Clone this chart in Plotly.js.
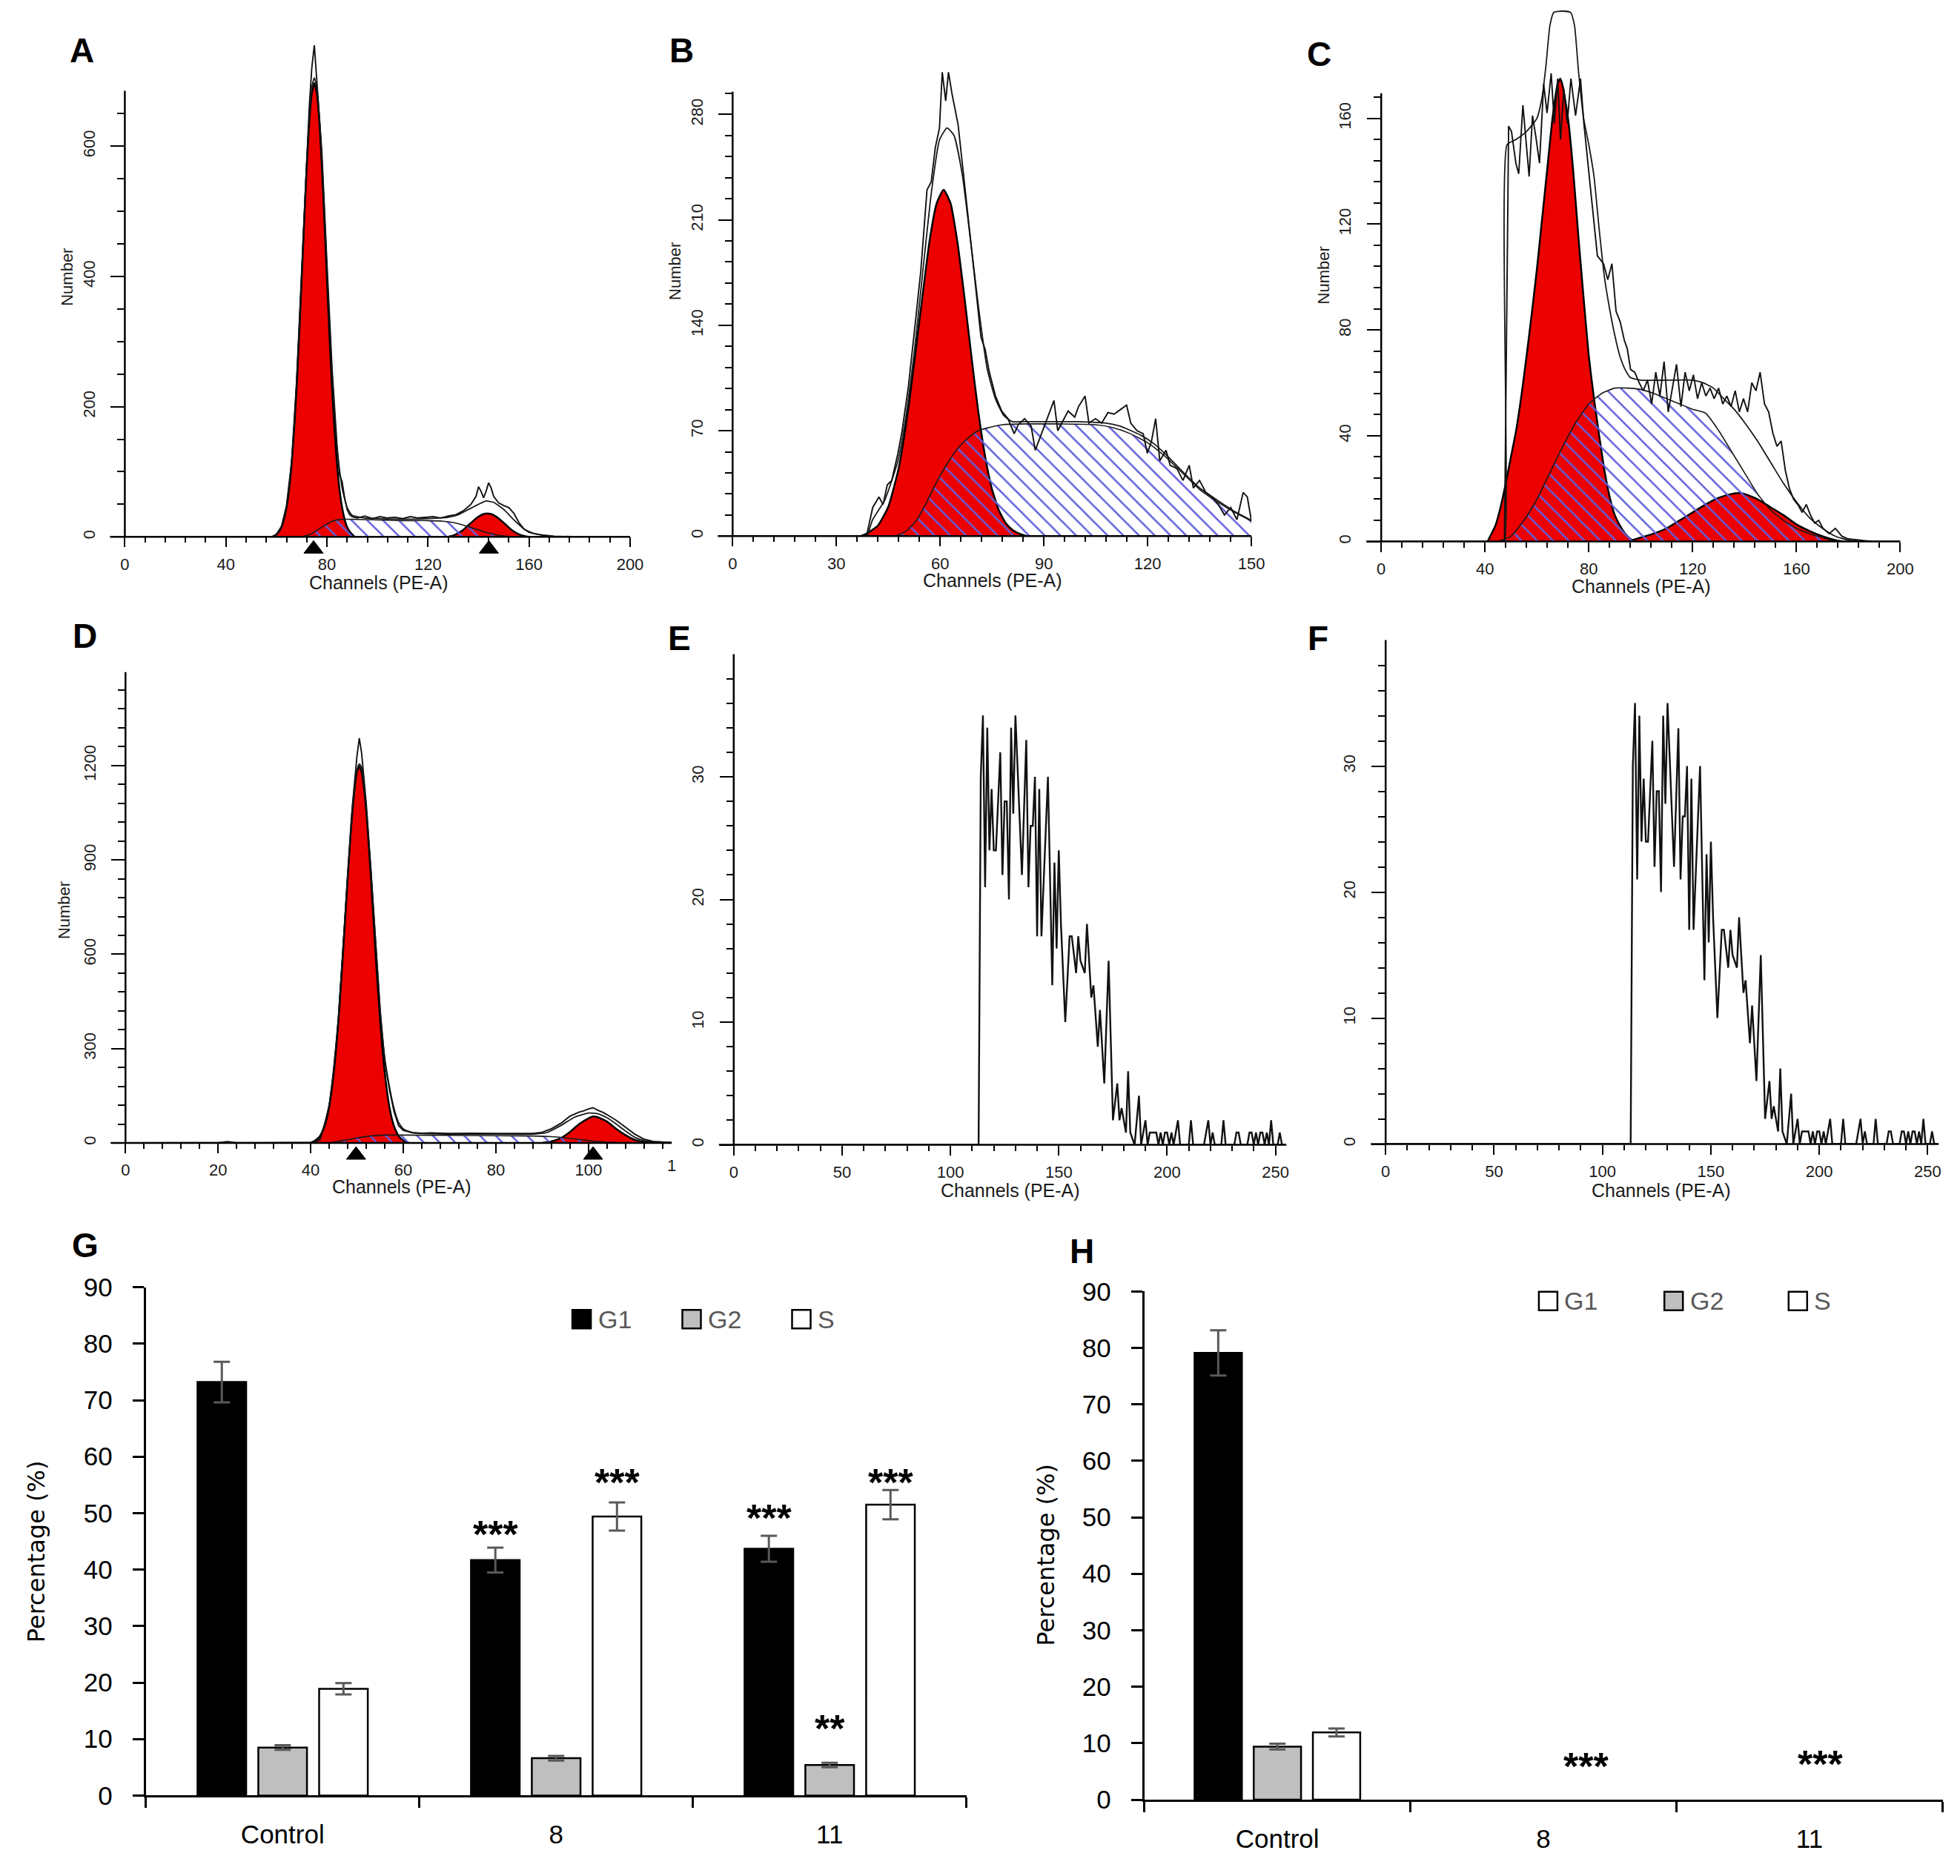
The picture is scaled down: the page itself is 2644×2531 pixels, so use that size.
<!DOCTYPE html>
<html><head><meta charset="utf-8">
<script src="https://cdn.plot.ly/plotly-3.0.1.min.js"></script>
<style>html,body{margin:0;padding:0;background:#fff}#chart{width:2644px;height:2531px}</style>
</head><body><div id="chart"></div>
<script>
// ================= DATA =================
// Panel A  [channel, count]
const aRaw = [[0,0],[20,0],[40,0],[58,0],[60,4],[62,16],[64,48],[66,115],[68,240],[70,410],[72,590],[73,660],[74,720],[75,755],[76,700],[77,650],[78,590],[80,420],[82,260],[84,140],[85,95],[86,85],[87,60],[88,42],[89,34],[90,31],[92,29],[95,32],[98,28],[101,31],[104,29],[107,30],[110,28],[113,31],[116,29],[119,30],[122,31],[125,29],[128,32],[131,34],[134,40],[137,50],[139,62],[140,77],[141,70],[142,60],[143,70],[144,83],[145,75],[146,62],[148,52],[150,48],[152,45],[154,36],[156,22],[158,12],[160,7],[162,5],[165,3],[170,1],[180,0],[200,0]];
const aFit = [[58,0],[60,3],[62,15],[64,46],[66,112],[68,235],[70,400],[72,575],[74,690],[75,705],[76,690],[78,580],[80,410],[82,250],[84,135],[86,75],[88,45],[90,33],[95,29],[100,28],[110,27],[120,28],[128,30],[132,34],[136,42],[140,50],[143,55],[146,53],[150,42],[154,26],[158,12],[162,5],[166,2],[170,0]];
const aG1 = [[59,0],[60,4],[61,8],[62,15],[63,27],[64,45],[65,72],[66,111],[67,164],[68,230],[69,309],[70,396],[71,485],[72,569],[73,637],[74,681],[75,697],[76,681],[77,637],[78,569],[79,485],[80,396],[81,309],[82,230],[83,164],[84,111],[85,72],[86,45],[87,27],[88,15],[89,8],[90,4],[91,0]];
const aS = [[70,0],[74,5],[78,15],[82,24],[86,27],[90,27],[100,26],[110,25],[120,25],[126,24],[130,22],[134,18],[138,13],[142,8],[146,4],[150,1.5],[155,0]];
const aG2 = [[128,0],[130,2],[132,6],[134,11],[136,18],[138,25],[140,31],[142,35],[143.5,36],[145,35],[147,31],[149,25],[151,18],[153,11],[155,6],[157,2.5],[160,0]];
const aPeaks = [74.7, 144.1];

// Panel B
const bRaw = [[0,0],[36,0],[38.7,0],[40.5,19],[42.3,26],[43.5,21],[44.7,34],[46,37],[47.8,55],[49,70],[50.8,99],[52.6,137],[54.4,176],[56.2,230],[57.4,235],[58.6,258],[59.8,271],[60.6,308],[61.6,289],[62.4,308],[63.4,294],[65.2,273],[66.4,248],[68.2,209],[70,171],[71.8,132],[73,124],[74.2,109],[76,93],[77.8,83],[79.6,78],[81.4,68],[82.6,74],[84.4,78],[86.3,73],[87.5,57],[89.3,68],[91,78],[92.9,90],[94,70],[95.9,78],[97,83],[98.9,79],[100,86],[101.9,93],[103,75],[104.9,78],[106.7,75],[108.5,82],[110.3,81],[112.1,84],[113.9,87],[115.1,75],[116.9,70],[118.7,68],[119.9,55],[121.1,63],[122.3,78],[123.5,50],[125.3,57],[126.5,47],[128.4,45],[130.2,37],[132,47],[133.2,32],[135,37],[136.8,29],[138.6,26],[140.4,21],[142.2,14],[144,19],[145.8,11],[147.6,29],[148.8,26],[150,10]];
const bFit = [[39,0],[40.5,11],[44,24],[47.8,50],[50,78],[52.6,124],[55,176],[57.4,227],[59.8,263],[62,271],[64,266],[66.4,240],[68.8,196],[71.2,150],[73.6,111],[76,91],[78.4,80],[80.8,76],[84,76],[90,76],[100,76],[108,75],[112,73],[118,67],[122,61],[126,52.5],[130,43],[135,32],[140,24],[145,16.5],[150,10.5]];
const bG1 = [[37,0],[39,2],[42,7],[45,19.5],[48,45],[51,88],[54,143],[57,197],[59,221],[61,230],[63,221],[65,195],[67,159],[69,120],[71,83],[73,53],[75,31],[77,17],[79,8.5],[81,4],[83,1.6],[85,0]];
const bS = [[47,0],[50,3],[53,10],[56,22],[59,36],[62,48],[65,58],[68,65],[71,70],[74,72],[78,74],[85,74.5],[95,74.5],[105,74],[110,72],[115,68],[120,62],[125,53],[130,42],[135,31],[140,23],[145,16],[150,10]];

// Panel C
const cRaw = [[0,0],[46.2,0],[47.5,0],[49.1,157],[50.2,155],[51.9,143],[53,139],[54.6,165],[55.9,149],[57,138],[58.3,161],[59.6,153],[61,143],[62.6,173],[63.9,162],[65.5,177],[66.7,158],[68,175],[69.1,152],[70.4,171],[71.7,158],[73.1,175],[74.9,161],[76.8,175],[78.1,158],[80,139],[81.6,123],[83.3,108],[85.7,105],[87.3,99],[88.9,105],[90.5,87],[92.1,83],[93.7,76],[94.8,73],[96.1,65],[97.7,64],[99.4,60],[101,57],[102.6,61],[104.2,52],[105.8,64],[107.4,55],[109,68],[110.6,49],[112.2,58],[113.8,67],[115.5,51],[117.1,64],[118.7,57],[120.3,63],[121.9,54],[123.5,60],[125.1,55],[126.7,58],[128.3,54],[130,58],[131.6,52],[133.2,55],[134.8,51],[136.4,57],[138,49],[139.6,54],[141.2,49],[142.8,60],[144.4,57],[146,64],[147.7,52],[149.3,49],[150.9,41],[152.5,36],[154.1,38],[155.7,27],[157.3,20],[158.9,16],[160.5,14],[162.2,11],[163.8,14],[165.4,10],[167,7],[168.6,8],[170.2,5],[172.6,3],[175,5],[177.5,2],[179.9,1],[183,0.7],[187,0.3],[189.5,0],[200,0]];
const cFit = [[46,0],[47.5,0],[48.5,150],[52,152],[56,155],[60,160],[62,168],[63.5,180],[65,195],[66.5,200],[70,200.5],[73,200],[74.5,195],[76,178],[78,160],[80,150],[82,138],[84,118],[86,100],[88,88],[90,78],[92,70],[94,65],[96,62],[100,61],[110,61],[120,61],[124,60],[128,58],[132,54],[136,50],[140,45],[145,38],[150,30],[155,22],[160,15],[165,9],[170,5],[175,2],[180,0.5],[185,0]];
const cG1 = [[41,0],[42,2],[44,6],[46,13],[48,22],[50,32],[52,42],[54,55],[56,70],[58,86],[60,103],[62,122],[64,141],[66,160],[68,173],[69,175],[70,172],[72,160],[74,140],[76,115],[78,92],[80,70],[82,54],[84,40],[86,27],[88,17],[90,10],[92,6],[94,3],[96,1],[98,0]];
const cS = [[45,0],[50,2],[55,8],[60,16],[65,26],[70,36],[75,45],[80,52],[85,56],[90,58],[95,58],[100,57.5],[105,56],[110,54],[115,52],[120,50],[125,48.5],[130,42],[135,34],[140,26],[145,18],[150,12],[155,8],[160,5],[165,3],[170,1.5],[175,0]];
const cG2 = [[95,0],[100,1.5],[105,3],[110,5],[115,8],[120,11],[125,14],[130,16.5],[135,18],[138,18.3],[140,18],[145,16],[150,13],[155,10],[160,6.5],[165,4],[170,2],[175,0.5],[178,0]];

// Panel D
const dRaw = [[0,0],[10,0],[18,0],[20,1],[22,4],[24,1],[30,1],[35,2],[40,2],[42,10],[43,55],[44,120],[45,230],[46,400],[47,620],[48,860],[49,1070],[50,1230],[50.5,1287],[51,1240],[52,1080],[53,870],[54,640],[55,420],[56,260],[57,170],[58,100],[59,55],[60,40],[62,33],[64,31],[66,32],[70,30],[75,31],[80,30],[85,29],[88,30],[90,34],[92,45],[94,62],[96,85],[98,98],[99,102],[100,108],[101,112],[102,104],[103,98],[104,90],[106,72],[108,50],[110,28],[112,12],[114,5],[116,3],[118,2]];
const dFit = [[41,0],[42,15],[44,120],[46,395],[48,855],[50,1185],[50.5,1205],[51,1195],[53,870],[55,425],[56,270],[57,180],[58,110],[59,65],[60,45],[62,32],[70,28],[80,28],[88,28],[91,33],[94,55],[97,82],[100,95],[102,93],[104,80],[106,60],[108,38],[110,18],[112,8],[115,2],[118,0]];
const dG1 = [[40,0],[41,8],[42,22],[43,53],[44,115],[45,224],[46,389],[47,606],[48,846],[49,1056],[50,1180],[50.5,1197],[51,1180],[52,1056],[53,846],[54,606],[55,389],[56,224],[57,115],[58,53],[59,22],[60,8],[61,0]];
const dS = [[44,0],[47,8],[50,16],[53,22],[56,25],[60,25],[70,24],[80,23],[88,22],[92,20],[95,16],[98,11],[101,6],[104,2.5],[107,0.5],[110,0]];
const dG2 = [[90,0],[92,5],[94,15],[96,35],[98,60],[100,78],[101,84],[102,82],[104,68],[106,45],[108,25],[110,10],[112,3],[114,0]];
const dPeaks = [49.8, 101];

// Panels E and F (identical histograms)
const eRaw = [[0,0],[113,0],[114,30],[115,35],[116,21],[117,34],[118,24],[119,29],[120,24],[121,24],[123,32],[124,22],[125,28],[126,28],[127,20],[128,34],[129,27],[130,35],[133,22],[135,33],[136,21],[137,26],[138,26],[139,30],[140,17],[141,29],[142,17],[145,30],[147,13],[148,23],[149,16],[150,24],[151,18],[153,10],[155,17],[156,17],[158,14],[159,17],[160,15],[162,14],[163,18],[165,12],[166,13],[168,8],[169,11],[171,5],[173,15],[175,2],[177,5],[178,2],[179,3],[181,1],[182,6],[183,1],[185,0],[187,4],[188,0],[190,2],[191,0],[192,1],[193,1],[195,1],[196,0],[197,1],[198,0],[199,1],[200,1],[201,0],[202,1],[203,0],[205,2],[206,0],[210,0],[211,2],[212,0],[217,0],[218,1],[219,2],[220,0],[221,1],[222,0],[225,0],[226,2],[227,0],[231,0],[232,1],[233,1],[234,0],[237,0],[238,1],[239,1],[240,0],[241,1],[242,0],[243,1],[244,1],[245,0],[246,1],[247,0],[248,2],[249,0],[251,0],[252,1],[253,0],[255,0]];
const fRaw = eRaw;

// Panels G and H (bar charts)
const categories = ['Control', '8', '11'];
const seriesNames = ['G1', 'G2', 'S'];
const gG1 = [73.2, 41.7, 43.7], gG1Err = [3.6, 2.2, 2.3];
const gG2 = [8.5, 6.6, 5.4],    gG2Err = [0.4, 0.4, 0.4];
const gS  = [18.9, 49.4, 51.5], gSErr  = [1.0, 2.5, 2.6];
const hG1 = [79.1, null, null], hG1Err = [4.0, 0, 0];
const hG2 = [9.4, null, null],  hG2Err = [0.5, 0, 0];
const hS  = [11.9, null, null], hSErr  = [0.7, 0, 0];
const gStars = [{cat:1, ser:0, y:47.5, text:'***'}, {cat:1, ser:2, y:56.8, text:'***'}, {cat:2, ser:0, y:50.5, text:'***'}, {cat:2, ser:1, y:13.2, text:'**'}, {cat:2, ser:2, y:56.8, text:'***'}];
const hStars = [{x:1.16, y:7.2, text:'***'}, {x:2.04, y:7.6, text:'***'}];

// ================= LAYOUT / DRAWING =================
const W = 2644, H = 2531;
const HF = 'Liberation Sans, Arial, Helvetica, sans-serif';
const RED = 'rgb(236,0,0)';
const HATCH = {shape:'\\', fgcolor:'#5f5fdc', bgcolor:'rgba(0,0,0,0)', size:15, solidity:0.17};
const PX = p => p / W, PY = p => 1 - p / H;

const panels = [
  {n:1, x0:168.4, x1:850,    xr:[0,200], y0:724.3,  ppu:0.8785, axTop:685,   yTop:760,  xdt:40, xmd:8,  ymaj:200, ymin:50},
  {n:2, x0:988.3, x1:1688.2, xr:[0,150], y0:723.3,  ppu:2.032,  axTop:295,   yTop:312,  xdt:30, xmd:6,  ymaj:70,  ymin:14},
  {n:3, x0:1863.2,x1:2563.4, xr:[0,200], y0:730.6,  ppu:3.569,  axTop:169.5, yTop:202,  xdt:40, xmd:8,  ymaj:40,  ymin:8},
  {n:4, x0:169.3, x1:906.2,  xr:[0,118], y0:1542,   ppu:0.4243, axTop:1497,  yTop:1500, xdt:20, xmd:4,  ymaj:300, ymin:60},
  {n:5, x0:989.8, x1:1735.2, xr:[0,255], y0:1544.5, ppu:16.55,  axTop:40,    yTop:40,   xdt:50, xmd:10, ymaj:10,  ymin:2},
  {n:6, x0:1869.2,x1:2615.1, xr:[0,255], y0:1543.5, ppu:17.0,   axTop:40,    yTop:40,   xdt:50, xmd:10, ymaj:10,  ymin:2}
];

const layout = {
  width: W, height: H, autosize: false, margin: {l:0, r:0, t:0, b:0},
  paper_bgcolor: '#fff', plot_bgcolor: 'rgba(0,0,0,0)', showlegend: false,
  font: {family: HF, color: '#000'},
  barmode: 'group', bargap: 0.333, bargroupgap: 0.2,
  shapes: [], annotations: []
};
const axName = (c, n) => c + 'axis' + (n === 1 ? '' : n);
const axId = (c, n) => c + (n === 1 ? '' : n);

panels.forEach(p => {
  const majors = [], minors = [];
  for (let v = 0; v < p.axTop - 0.5; v += p.ymaj) majors.push(v);
  for (let v = p.ymin; v < p.axTop; v += p.ymin) if (v % p.ymaj !== 0) minors.push(v);
  layout[axName('x', p.n)] = {
    domain: [PX(p.x0), PX(p.x1)], range: p.xr, anchor: axId('y', p.n),
    showline: false, zeroline: false, showgrid: false,
    ticks: 'outside', ticklen: 13, tickwidth: 2, tickcolor: '#000',
    tick0: 0, dtick: p.xdt, ticklabelstandoff: 4,
    minor: {tick0: 0, dtick: p.xmd, ticks: 'outside', ticklen: 7, tickwidth: 2, tickcolor: '#000'},
    tickfont: {family: HF, size: 22, color: '#1a1a1a'}, fixedrange: true
  };
  layout[axName('y', p.n)] = {
    domain: [PY(p.y0), PY(p.y0 - p.yTop * p.ppu)], range: [0, p.yTop], anchor: axId('x', p.n),
    showline: false, zeroline: false, showgrid: false,
    ticks: 'outside', ticklen: 18, tickwidth: 2, tickcolor: '#000',
    tickmode: 'array', tickvals: majors, tickangle: -90, ticklabelstandoff: 13,
    minor: {tickvals: minors, ticks: 'outside', ticklen: 9, tickwidth: 2, tickcolor: '#000'},
    tickfont: {family: HF, size: 22, color: '#1a1a1a'}, fixedrange: true
  };
  // axis lines
  layout.shapes.push({type:'line', xref:'paper', yref:'paper', x0:PX(p.x0 - 20), x1:PX(p.x1), y0:PY(p.y0), y1:PY(p.y0), line:{color:'#000', width:2.5}});
  layout.shapes.push({type:'line', xref:'paper', yref:'paper', x0:PX(p.x0), x1:PX(p.x0), y0:PY(p.y0 + 1), y1:PY(p.y0 - p.axTop * p.ppu), line:{color:'#000', width:2.5}});
});

const traces = [];
function line(pairs, n, extra) {
  const t = {type:'scatter', mode:'lines', x: pairs.map(d => d[0]), y: pairs.map(d => d[1]),
             xaxis: axId('x', n), yaxis: axId('y', n), hoverinfo: 'skip'};
  return Object.assign(t, extra);
}
const redFill = {fill:'tozeroy', fillcolor: RED, line:{color:'#000', width:2.5, shape:'spline', smoothing:0.5}};
const hatchFill = {fill:'tozeroy', fillcolor:'rgba(0,0,0,0)', fillpattern: HATCH, line:{color:'#1a1a1a', width:1.6, shape:'spline', smoothing:0.5}};
const fitLine = {line:{color:'#1a1a1a', width:1.8, shape:'spline', smoothing:0.5}};
const rawLine = {line:{color:'#111', width:1.9}};
const rawLineBold = {line:{color:'#111', width:2.4}};
// peak-position triangles under the channel axis (anchored at the data channel)
function peakMarks(chs, p) {
  chs.forEach(ch => layout.shapes.push({type:'path', xref: axId('x', p.n), yref:'paper', xsizemode:'pixel', ysizemode:'pixel',
    xanchor: ch, yanchor: PY(p.y0), path:'M -13 -22 L 13 -22 L 0 -5 Z', fillcolor:'#000', line:{color:'#000', width:1}}));
}

// A
traces.push(line(aG1, 1, redFill), line(aG2, 1, redFill), line(aS, 1, hatchFill), line(aFit, 1, fitLine), line(aRaw, 1, rawLine));
peakMarks(aPeaks, panels[0]);
// B
traces.push(line(bG1, 2, redFill), line(bS, 2, hatchFill), line(bFit, 2, fitLine), line(bRaw, 2, rawLine));
// C
traces.push(line(cG1, 3, redFill), line(cG2, 3, redFill), line(cS, 3, hatchFill), line(cFit, 3, fitLine), line(cRaw, 3, rawLine));
// D
traces.push(line(dG1, 4, redFill), line(dG2, 4, redFill), line(dS, 4, hatchFill), line(dFit, 4, fitLine), line(dRaw, 4, rawLine));
peakMarks(dPeaks, panels[3]);
// E, F
traces.push(line(eRaw, 5, rawLineBold), line(fRaw, 6, rawLineBold));

// Histogram texts
const letters = [['A',110.5,68],['B',919.3,68],['C',1779.7,73],['D',114.8,858],['E',916.8,861],['F',1778,861],['G',114.5,1680],['H',1460,1688]];
letters.forEach(l => layout.annotations.push({xref:'paper', yref:'paper', x:PX(l[1]), y:PY(l[2]), text:'<b>'+l[0]+'</b>', showarrow:false, xanchor:'center', yanchor:'middle', font:{family:HF, size:46, color:'#000'}}));
const numberTitles = [[89.8,374],[910.9,366],[1785.4,371],[86.1,1228]];
numberTitles.forEach(t => layout.annotations.push({xref:'paper', yref:'paper', x:PX(t[0]), y:PY(t[1]), text:'Number', textangle:-90, showarrow:false, xanchor:'center', yanchor:'middle', font:{family:HF, size:22, color:'#1a1a1a'}}));
const chanTitles = [[510.7,786],[1339,783],[2213.8,791],[542.4,1601],[1363,1606],[2241,1606]];
chanTitles.forEach(t => layout.annotations.push({xref:'paper', yref:'paper', x:PX(t[0]), y:PY(t[1]), text:'Channels (PE-A)', showarrow:false, xanchor:'center', yanchor:'middle', font:{family:HF, size:25, color:'#1a1a1a'}}));
layout.annotations.push({xref:'paper', yref:'paper', x:PX(906), y:PY(1572), text:'1', showarrow:false, xanchor:'center', yanchor:'middle', font:{family:HF, size:22, color:'#1a1a1a'}});

// ===== Bar charts =====
const bars = [
  {n:7, x0:196.8, x1:1303.7, y0:2422.4, y90:1736.6, vals:[gG1,gG2,gS], errs:[gG1Err,gG2Err,gSErr]},
  {n:8, x0:1543.7, x1:2620.5, y0:2428, y90:1742.3, vals:[hG1,hG2,hS], errs:[hG1Err,hG2Err,hSErr]}
];
const barColors = ['#000', '#bfbfbf', '#fff'];
bars.forEach(b => {
  layout[axName('x', b.n)] = {
    domain:[PX(b.x0), PX(b.x1)], anchor: axId('y', b.n), type:'category', range:[-0.5, 2.5],
    tickson:'boundaries', ticks:'outside', ticklen:14, tickwidth:3, tickcolor:'#000',
    showline:true, linewidth:3, linecolor:'#000', showgrid:false, zeroline:false,
    ticklabelstandoff: 20, tickfont:{family:HF, size:35, color:'#000'}, fixedrange:true
  };
  layout[axName('y', b.n)] = {
    domain:[PY(b.y0), PY(b.y90)], anchor: axId('x', b.n), range:[0, 90], tick0:0, dtick:10,
    ticks:'outside', ticklen:15, tickwidth:3, tickcolor:'#000',
    showline:true, linewidth:3, linecolor:'#000', showgrid:false, zeroline:false,
    ticklabelstandoff: 20, tickfont:{family:HF, size:35, color:'#000'}, fixedrange:true
  };
  b.vals.forEach((v, i) => traces.push({
    type:'bar', x: categories, y: v, name: seriesNames[i], xaxis: axId('x', b.n), yaxis: axId('y', b.n),
    marker:{color: barColors[i], line:{color:'#000', width:2.5}}, hoverinfo:'skip',
    error_y:{type:'data', array: b.errs[i], visible:true, color:'#595959', thickness:3, width:11}
  }));
});
const slot = (1 - layout.bargap) / 3;
gStars.forEach(s => layout.annotations.push({xref:'x7', yref:'y7', x: s.cat + (s.ser - 1) * slot, y: s.y, text:'<b>'+s.text+'</b>', showarrow:false, xanchor:'center', yanchor:'middle', yshift:-10, font:{family:HF, size:52, color:'#000'}}));
hStars.forEach(s => layout.annotations.push({xref:'x8', yref:'y8', x: s.x, y: s.y, text:'<b>'+s.text+'</b>', showarrow:false, xanchor:'center', yanchor:'middle', yshift:-10, font:{family:HF, size:52, color:'#000'}}));

// y titles
[[49.2,2093],[1411.3,2097.4]].forEach(t => layout.annotations.push({xref:'paper', yref:'paper', x:PX(t[0]), y:PY(t[1]), text:'Percentage (%)', textangle:-90, showarrow:false, xanchor:'center', yanchor:'middle', font:{family:'DejaVu Sans, Verdana, sans-serif', size:32, color:'#000'}}));

// custom legends
const legends = [
  {y:1779.8, items:[[784.6,'#000'],[933,'#bfbfbf'],[1081,'#fff']]},
  {y:1755.3, items:[[2088.4,'#fff'],[2257.7,'#bfbfbf'],[2425.3,'#fff']]}
];
legends.forEach(L => L.items.forEach((it, i) => {
  layout.shapes.push({type:'rect', xref:'paper', yref:'paper', x0:PX(it[0]-12.5), x1:PX(it[0]+12.5), y0:PY(L.y+12.5), y1:PY(L.y-12.5), fillcolor: it[1], line:{color:'#000', width:2.5}});
  layout.annotations.push({xref:'paper', yref:'paper', x:PX(it[0]+20), y:PY(L.y), text: seriesNames[i], showarrow:false, xanchor:'left', yanchor:'middle', font:{family:HF, size:34, color:'#595959'}});
}));

Plotly.newPlot('chart', traces, layout, {staticPlot:true, displayModeBar:false});
</script>
</body></html>
